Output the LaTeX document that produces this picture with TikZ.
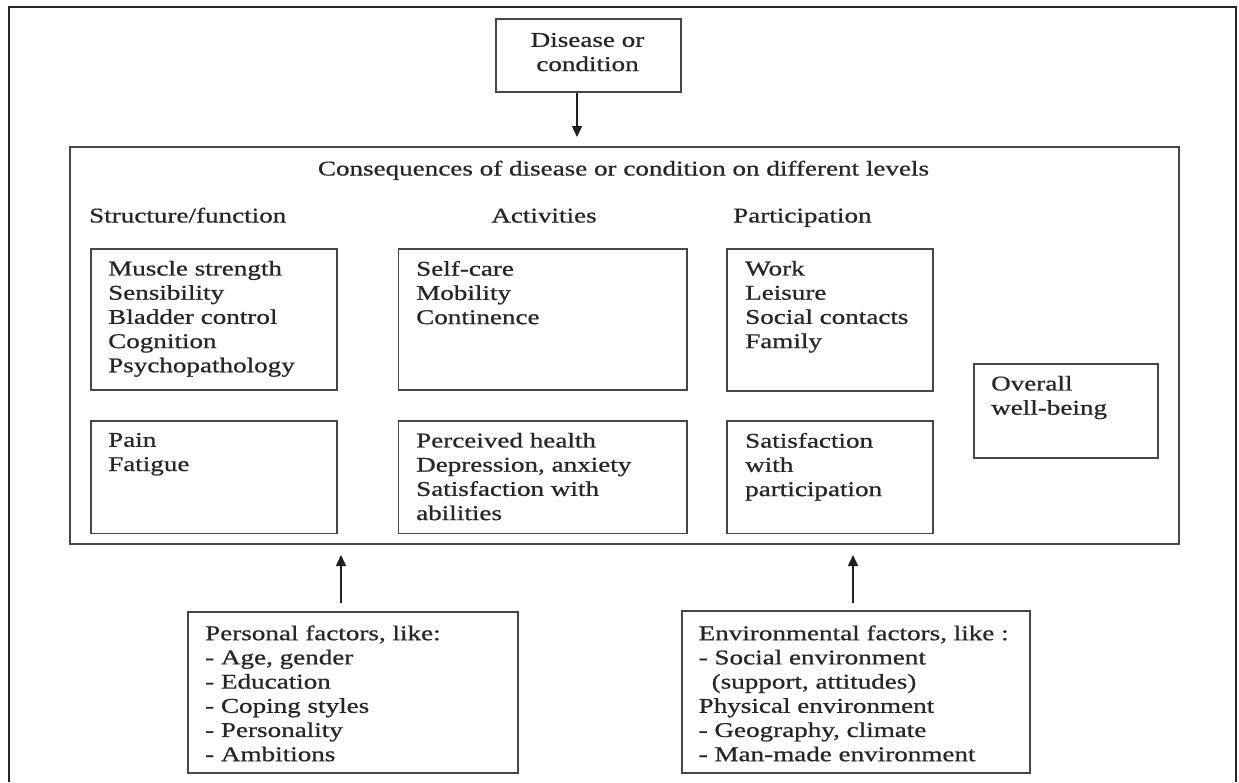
\documentclass[tikz,border=0pt]{standalone}
\usepackage{fontspec}
\setmainfont[FakeStretch=1.29,FakeBold=0.7]{Liberation Serif}
\usetikzlibrary{arrows.meta}
\tikzset{
  boxnode/.style={draw=black!72, line width=1.8pt, inner sep=0pt, anchor=north west},
  txt/.style={font=\fontsize{21}{24.2}\selectfont, align=left, inner sep=0pt, text=black!85},
  arr/.style={draw=black!88, line width=1.5pt, -{Triangle[length=11pt,width=10pt]}},
  frame/.style={draw=black!85, line width=2.4pt}
}
\begin{document}
\begin{tikzpicture}[x=1pt,y=-1pt]
\useasboundingbox (0,0) rectangle (1239,782);
\fill[white] (0,0) rectangle (1239,782);
% outer frame (open at bottom)
\draw[frame] (9,782) -- (9,7) -- (1236,7) -- (1236,782);

% top box
\node[boxnode, minimum width=185pt, minimum height=73pt] (dis) at (495,18) {};
\node[txt, align=center, anchor=north] (dist) at (587.5,32.7) {Disease or\\condition};

% main box
\node[boxnode, minimum width=1109pt, minimum height=397pt] (main) at (69,146) {};
\node[txt, anchor=base] (title) at (623.5,175.5) {Consequences of disease or condition on different levels};
\node[txt, anchor=base west] (h1) at (89,222.5) {Structure/function};
\node[txt, anchor=base] (h2) at (544,222.5) {Activities};
\node[txt, anchor=base west] (h3) at (733,222.5) {Participation};

% row 1
\node[boxnode, minimum width=246pt, minimum height=141pt] (a1) at (90,248) {};
\node[txt, anchor=north west] (a1t) at (108,260.7) {Muscle strength\\Sensibility\\Bladder control\\Cognition\\Psychopathology};
\node[boxnode, minimum width=288.5pt, minimum height=141pt] (b1) at (397.5,248) {};
\node[txt, anchor=north west] (b1t) at (416,260.7) {Self-care\\Mobility\\Continence};
\node[boxnode, minimum width=206pt, minimum height=142pt] (c1) at (726,248) {};
\node[txt, anchor=north west] (c1t) at (745,260.7) {Work\\Leisure\\Social contacts\\Family};

% row 2
\node[boxnode, minimum width=246pt, minimum height=112.5pt] (a2) at (90,420) {};
\node[txt, anchor=north west] (a2t) at (108,432.7) {Pain\\Fatigue};
\node[boxnode, minimum width=288.5pt, minimum height=112.5pt] (b2) at (397.5,420) {};
\node[txt, anchor=north west] (b2t) at (416,432.7) {Perceived health\\Depression, anxiety\\Satisfaction with\\abilities};
\node[boxnode, minimum width=206pt, minimum height=112.5pt] (c2) at (726,420) {};
\node[txt, anchor=north west] (c2t) at (745,432.7) {Satisfaction\\with\\participation};

% overall well-being
\node[boxnode, minimum width=184pt, minimum height=94pt] (ov) at (973,363) {};
\node[txt, anchor=north west] (ovt) at (991,375.7) {Overall\\well-being};

% bottom boxes
\node[boxnode, minimum width=330pt, minimum height=161pt] (pers) at (187,611) {};
\node[txt, anchor=north west] (perst) at (205,625.2) {Personal factors, like:\\- Age, gender\\- Education\\- Coping styles\\- Personality\\- Ambitions};
\node[boxnode, minimum width=348pt, minimum height=162pt] (env) at (681,610) {};
\node[txt, anchor=north west] (envt) at (698.5,625.2) {Environmental factors, like :\\- Social environment\\\hspace*{13pt}(support, attitudes)\\Physical environment\\- Geography, climate\\- Man-made environment};

% arrows
\coordinate (t1) at (577,137);
\draw[arr] (dis.south -| t1) -- (t1);
\coordinate (p1) at (341,555);
\draw[arr] ([yshift=8pt]pers.north -| p1) -- (p1);
\coordinate (e1) at (853,555);
\draw[arr] ([yshift=7pt]env.north -| e1) -- (e1);
\end{tikzpicture}
\end{document}
